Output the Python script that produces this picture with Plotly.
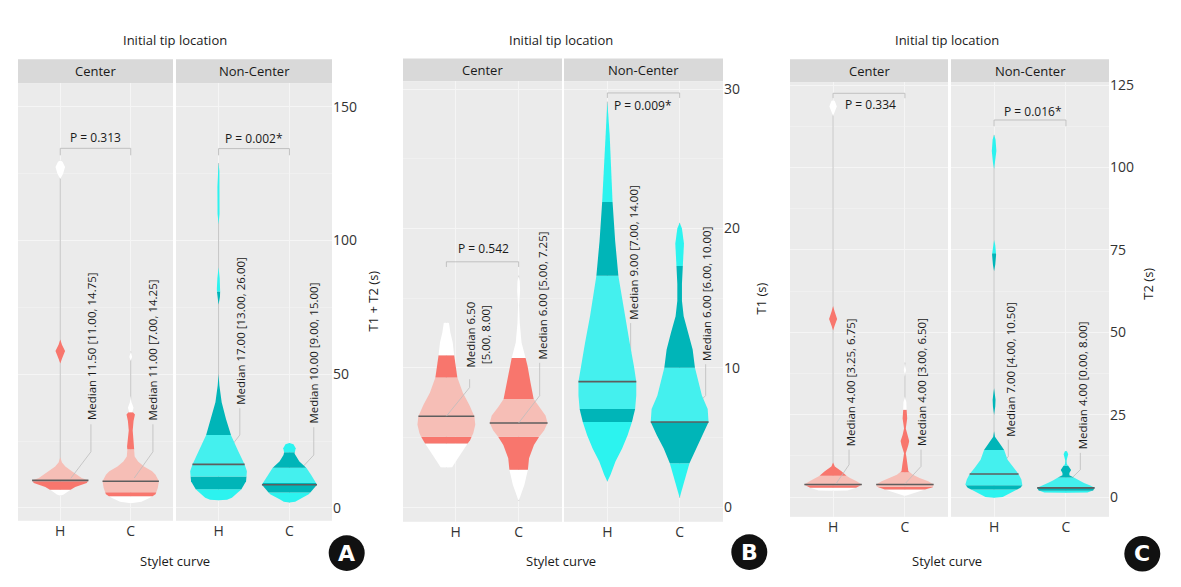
import numpy as np
import plotly.graph_objects as go

W, H = 1181, 587

# ---------------- data ----------------
categories = ["H", "C"]
facets = ["Center", "Non-Center"]
top_title = "Initial tip location"
x_title = "Stylet curve"
y_titles = ["T1 + T2 (s)", "T1 (s)", "T2 (s)"]
badges = ["A", "B", "C"]

yticks_a = [0, 50, 100, 150]
yticks_b = [0, 10, 20, 30]
yticks_c = [0, 25, 50, 75, 100, 125]

# violin profiles: y values and relative half-widths
# Panel A  (T1 + T2)
a_ch_y = [4.6, 5.0, 6.5, 7.8, 9.3, 10.3, 11.2, 12.5, 13.7, 15.5, 17.0, 19.0, 54.0, 55.8, 58.7, 61.0, 63.0, 123.0, 125.0, 127.5, 129.5, 130.0]
a_ch_w = [0, 0.12, 0.32, 0.53, 0.94, 1.0, 0.76, 0.58, 0.41, 0.18, 0.06, 0, 0, 0.06, 0.17, 0.06, 0, 0, 0.1, 0.17, 0.08, 0]
a_ch_b = [6.8, 10.0, 30.0, 100.0]
a_cc_y = [1.8, 2.3, 3.8, 5.1, 7.5, 10.0, 12.4, 13.7, 15.5, 17.4, 19.2, 21.8, 23.0, 26.0, 29.0, 32.5, 35.0, 36.0, 37.5, 39.5, 42.0, 55.0, 56.5, 58.0, 58.5]
a_cc_w = [0, 0.38, 0.68, 0.88, 0.96, 1.0, 0.88, 0.76, 0.47, 0.26, 0.14, 0.12, 0.13, 0.1, 0.07, 0.1, 0.15, 0.06, 0.1, 0.03, 0, 0, 0.05, 0.02, 0]
a_cc_b = [4.4, 5.9, 22.0, 35.8]
a_nh_y = [2.9, 3.1, 3.8, 6.9, 10.0, 13.7, 16.3, 21.1, 27.2, 33.4, 39.5, 45.8, 50.0, 76.0, 79.0, 82.0, 86.0, 90.0, 106.0, 110.0, 120.0, 126.0, 129.0]
a_nh_w = [0, 0.3, 0.47, 0.8, 0.97, 1.0, 0.92, 0.7, 0.44, 0.26, 0.11, 0.03, 0, 0, 0.05, 0.06, 0.04, 0, 0, 0.035, 0.04, 0.03, 0]
a_nh_b = [7.0, 11.8, 27.3, 81.0]
a_nc_y = [2.0, 2.3, 3.2, 5.1, 8.7, 12.4, 14.9, 17.4, 19.8, 20.4, 22.3, 23.8, 24.3]
a_nc_w = [0, 0.2, 0.33, 0.68, 0.97, 0.76, 0.6, 0.35, 0.21, 0.18, 0.22, 0.14, 0]
a_nc_b = [5.8, 9.3, 15.0, 20.8]
medians_a = [10.3, 10.0, 16.3, 8.7]

# Panel B  (T1)
b_ch_y = [2.84, 2.86, 3.5, 4.45, 4.8, 5.3, 5.9, 6.5, 7.3, 8.2, 9.3, 10.9, 11.8, 12.5, 13.2, 13.24]
b_ch_w = [0, 0.2, 0.4, 0.7, 0.82, 0.93, 1.0, 0.97, 0.8, 0.57, 0.38, 0.27, 0.22, 0.14, 0.09, 0]
b_ch_b = [4.56, 5.04, 9.3, 10.9]
b_cc_y = [0.43, 0.9, 1.6, 2.67, 3.5, 4.45, 5.04, 5.5, 6.03, 6.57, 7.16, 7.75, 8.94, 10.1, 10.7, 11.8, 13.2, 14.5, 15.5, 16.2, 16.6]
b_cc_w = [0, 0.09, 0.2, 0.32, 0.36, 0.53, 0.71, 0.88, 1.0, 0.93, 0.71, 0.52, 0.41, 0.31, 0.24, 0.1, 0.04, 0.02, 0.05, 0.04, 0]
b_cc_b = [2.67, 5.04, 7.75, 10.7]
b_nh_y = [1.84, 2.32, 3.26, 4.2, 5.16, 6.1, 7.04, 8.0, 9.0, 10.1, 11.8, 13.7, 16.6, 19.1, 21.9, 24.3, 26.7, 29.1]
b_nh_w = [0, 0.11, 0.28, 0.51, 0.7, 0.85, 0.96, 1.0, 1.0, 0.92, 0.77, 0.6, 0.38, 0.27, 0.18, 0.12, 0.08, 0]
b_nh_b = [6.1, 7.04, 16.6, 21.9]
b_nc_y = [0.66, 1.37, 2.32, 3.14, 4.2, 5.16, 6.1, 7.04, 8.0, 8.94, 10.0, 11.3, 12.5, 13.7, 14.8, 16.0, 17.3, 18.9, 20.0, 20.4]
b_nc_w = [0, 0.1, 0.22, 0.34, 0.55, 0.79, 1.0, 0.97, 0.77, 0.65, 0.53, 0.45, 0.3, 0.14, 0.08, 0.08, 0.11, 0.15, 0.08, 0]
b_nc_b = [3.14, 6.1, 10.0, 17.3]
medians_b = [6.52, 6.03, 9.0, 6.1]

# Panel C  (T2)
c_ch_y = [1.9, 2.0, 2.8, 3.3, 3.8, 4.8, 5.8, 6.6, 7.8, 9.3, 10.5, 50.5, 51.9, 54.0, 56.4, 58.0, 115.5, 117.2, 118.5, 120.2, 120.5]
c_ch_w = [0, 0.5, 0.8, 0.92, 1.0, 0.82, 0.59, 0.45, 0.29, 0.06, 0, 0, 0.05, 0.14, 0.05, 0, 0, 0.07, 0.13, 0.06, 0]
c_ch_b = [2.8, 3.6, 6.5, 100.0]
c_cc_y = [0.3, 1.3, 2.3, 3.0, 3.8, 4.8, 5.8, 6.8, 7.8, 9.8, 12.3, 13.3, 15.8, 17.0, 18.8, 20.8, 23.8, 26.3, 28.8, 30.5, 36.5, 38.5, 40.8]
c_cc_w = [0, 0.32, 0.7, 0.97, 1.0, 0.81, 0.51, 0.28, 0.12, 0.09, 0.05, 0.03, 0.12, 0.15, 0.08, 0.03, 0.08, 0.06, 0.05, 0, 0, 0.04, 0]
c_cc_b = [2.3, 3.1, 7.5, 26.5]
c_nh_y = [-0.2, 0.0, 1.8, 2.8, 3.8, 5.3, 7.0, 8.8, 11.3, 14.3, 16.3, 18.3, 20.0, 25.0, 27.5, 29.5, 31.8, 33.0, 68.5, 70.5, 73.5, 76.5, 78.0, 99.5, 101.5, 105.0, 108.5, 109.9]
c_nh_w = [0, 0.3, 0.68, 0.92, 1.0, 0.95, 0.85, 0.68, 0.47, 0.35, 0.19, 0.03, 0, 0, 0.04, 0.05, 0.02, 0, 0, 0.04, 0.07, 0.04, 0, 0, 0.04, 0.08, 0.05, 0]
c_nh_b = [2.3, 3.6, 14.3, 74.0]
c_nc_y = [1.3, 1.4, 2.0, 2.8, 3.5, 4.3, 5.0, 5.8, 6.6, 7.3, 8.2, 9.3, 10.0, 11.0, 12.0, 13.0, 13.8, 14.0]
c_nc_w = [0, 0.75, 0.95, 1.0, 0.85, 0.63, 0.45, 0.3, 0.12, 0.12, 0.18, 0.1, 0.03, 0.02, 0.05, 0.08, 0.04, 0]
c_nc_b = [1.9, 2.8, 5.9, 9.5]
medians_c = [3.8, 3.8, 7.0, 2.8]

labels_a = ["Median 11.50 [11.00, 14.75]", "Median 11.00 [7.00, 14.25]",
            "Median 17.00 [13.00, 26.00]", "Median 10.00 [9.00, 15.00]"]
labels_b = ["Median 6.50<br>[5.00, 8.00]", "Median 6.00 [5.00, 7.25]",
            "Median 9.00 [7.00, 14.00]", "Median 6.00 [6.00, 10.00]"]
labels_c = ["Median 4.00 [3.25, 6.75]", "Median 4.00 [3.00, 6.50]",
            "Median 7.00 [4.00, 10.50]", "Median 4.00 [0.00, 8.00]"]
pvals_a = ["P = 0.313", "P = 0.002*"]
pvals_b = ["P = 0.542", "P = 0.009*"]
pvals_c = ["P = 0.334", "P = 0.016*"]

# ---------------- layout / styling ----------------
FONT = "Open Sans"
HALF = 0.4
CENTER_COLS = ["#FFFFFF", "#F8766D", "#F6BEB6", "#F8766D", "#FFFFFF"]
NONC_COLS = ["#2CF3EF", "#00B5B8", "#44F0EE", "#00B5B8", "#2CF3EF"]
GRID = "#F5F5F5"
MINOR = "#F0F0F0"
CONN = "#BDBDBD"

PANELS = [
    dict(fx=[(18, 173), (176, 332)], py=(77, 520), strip=(53, 77), yr=[-4.8, 158.9], ticks=yticks_a,
         minor=[25, 75, 125], ytx=373, yty=298, cx=175, badge=(346.7, 552.7), tickpos=[[1, 2], [1, 2]],
         violins=[(a_ch_y, a_ch_w, a_ch_b), (a_cc_y, a_cc_w, a_cc_b), (a_nh_y, a_nh_w, a_nh_b), (a_nc_y, a_nc_w, a_nc_b)],
         medians=medians_a, labels=labels_a, pvals=pvals_a,
         conn=[(1.435, 32.1, 1.435, 31.3, 21.0, 1.15, 11.1), (2.315, 32.1, 2.315, 31.3, 21.0, 2.05, 11.2),
               (1.308, 38.0, 1.30, 37.3, 27.3, 1.0, 17.0), (2.343, 30.9, 2.343, 30.2, 19.8, 2.0, 10.0)],
         brk=[(134.5, 2.6, 1.5, 138.5), (134.4, 2.5, 1.5, 138.3)]),
    dict(fx=[(403, 562), (564, 723)], py=(75, 521), strip=(52, 75), yr=[-1.06, 30.57], ticks=yticks_b,
         minor=[5, 15, 25], ytx=761, yty=295, cx=561, badge=(749.3, 551.7), tickpos=[[1.13, 2], [1, 2]],
         violins=[(b_ch_y, b_ch_w, b_ch_b), (b_cc_y, b_cc_w, b_cc_b), (b_nh_y, b_nh_w, b_nh_b), (b_nc_y, b_nc_w, b_nc_b)],
         medians=medians_b, labels=labels_b, pvals=pvals_b,
         conn=[(1.437, 9.86, 1.322, 9.17, 8.58, 1.0, 6.52), (2.327, 10.47, 2.291, 10.35, 7.99, 2.0, 6.03),
               (1.368, 13.3, 1.322, 13.2, 11.06, 1.0, 9.0), (2.382, 10.35, 2.36, 10.25, 8.0, 2.0, 6.1)],
         brk=[(17.6, 0.37, 1.51, 18.58), (29.72, 0.36, 1.49, 28.83)]),
    dict(fx=[(790, 948), (951, 1109)], py=(76, 516), strip=(53, 76), yr=[-6.0, 125.9], ticks=yticks_c,
         minor=[12.5, 37.5, 62.5, 87.5, 112.5], ytx=1148, yty=280, cx=947.5, badge=(1142.3, 553.3), tickpos=[[1, 2], [1, 2]],
         violins=[(c_ch_y, c_ch_w, c_ch_b), (c_cc_y, c_cc_w, c_cc_b), (c_nh_y, c_nh_w, c_nh_b), (c_nc_y, c_nc_w, c_nc_b)],
         medians=medians_c, labels=labels_c, pvals=pvals_c,
         conn=[(1.236, 14.8, 1.222, 14.4, 9.8, 1.04, 4.0), (2.234, 14.8, 2.224, 14.4, 9.3, 2.0, 4.0),
               (1.226, 17.8, 1.198, 17.4, 12.3, 1.0, 7.0), (2.234, 13.8, 2.201, 13.4, 8.3, 2.0, 4.0)],
         brk=[(122.5, 1.5, 1.52, 119.0), (114.4, 1.9, 1.54, 116.9)]),
]


def band_poly(ys, ws, lo, hi, xc):
    ys = np.asarray(ys, float)
    ws = np.asarray(ws, float)
    lo = max(lo, ys[0])
    hi = min(hi, ys[-1])
    inner = ys[(ys > lo) & (ys < hi)]
    yy = np.concatenate([[lo], inner, [hi]])
    ww = np.interp(yy, ys, ws) * HALF
    return (np.concatenate([xc - ww, (xc + ww)[::-1]]).tolist(),
            np.concatenate([yy, yy[::-1]]).tolist())


fig = go.Figure()
layout = dict(width=W, height=H, margin=dict(l=0, r=0, t=0, b=0), paper_bgcolor="white",
              plot_bgcolor="#EBEBEB", showlegend=False, shapes=[], annotations=[],
              font=dict(family=FONT, color="#222"))

def ann(**kw):
    layout["annotations"].append(kw)

for p, cfg in enumerate(PANELS):
    py0, py1 = cfg["py"]
    for f in range(2):
        idx = p * 2 + f + 1
        sfx = "" if idx == 1 else str(idx)
        xa, ya = "x" + sfx, "y" + sfx
        x0, x1 = cfg["fx"][f]
        layout["xaxis" + sfx] = dict(domain=[x0 / W, x1 / W], range=[0.4, 2.6], anchor=ya,
                                     tickvals=cfg["tickpos"][f], ticktext=categories,
                                     showgrid=True, gridcolor=GRID, gridwidth=1, zeroline=False,
                                     showline=False, ticks="", tickfont=dict(size=14, color="#333"),
                                     fixedrange=True)
        layout["yaxis" + sfx] = dict(domain=[1 - py1 / H, 1 - py0 / H], range=cfg["yr"], anchor=xa,
                                     tickvals=cfg["ticks"], showticklabels=(f == 1), side="right",
                                     showgrid=True, gridcolor=GRID, gridwidth=1, zeroline=False,
                                     showline=False, ticks="", tickfont=dict(size=14, color="#333"),
                                     minor=dict(tickvals=cfg["minor"], showgrid=True, gridcolor=MINOR, gridwidth=0.6),
                                     fixedrange=True)
        s0, s1 = cfg["strip"]
        layout["shapes"].append(dict(type="rect", xref="paper", yref="paper", x0=x0 / W, x1=x1 / W,
                                     y0=1 - s1 / H, y1=1 - s0 / H, fillcolor="#D9D9D9", line=dict(width=0),
                                     layer="below"))
        ann(x=(x0 + x1) / 2 / W, y=1 - (s0 + s1) / 2 / H, xref="paper", yref="paper", text=facets[f],
            showarrow=False, font=dict(size=13, color="#1A1A1A"), xanchor="center", yanchor="middle")

        cols = CENTER_COLS if f == 0 else NONC_COLS
        for c in range(2):
            k = f * 2 + c
            ys, ws, bands = cfg["violins"][k]
            xc = c + 1
            med = cfg["medians"][k]
            lx, ly, cxp, ctop, cbend, ex, ey = cfg["conn"][k]
            conn_trace = go.Scatter(x=[cxp, cxp, ex], y=[ctop, cbend, ey], mode="lines",
                                    line=dict(color=CONN, width=0.8), xaxis=xa, yaxis=ya, hoverinfo="skip")
            if f == 1:
                fig.add_trace(conn_trace)
            fig.add_trace(go.Scatter(x=[xc, xc], y=[ys[0], ys[-1]], mode="lines",
                                     line=dict(color="#C6C6C6", width=1), xaxis=xa, yaxis=ya, hoverinfo="skip"))
            edges = [ys[0]] + list(bands) + [ys[-1]]
            for b in range(5):
                if edges[b + 1] <= edges[b]:
                    continue
                px, pyv = band_poly(ys, ws, edges[b], edges[b + 1], xc)
                fig.add_trace(go.Scatter(x=px, y=pyv, mode="lines", fill="toself", fillcolor=cols[b],
                                         line=dict(width=0, color=cols[b]), xaxis=xa, yaxis=ya,
                                         hoverinfo="skip"))
            mw = float(np.interp(med, ys, ws)) * HALF
            fig.add_trace(go.Scatter(x=[xc - mw, xc + mw], y=[med, med], mode="lines",
                                     line=dict(color="#5E5E5E", width=1.6), xaxis=xa, yaxis=ya,
                                     hoverinfo="skip"))
            if f == 0:
                fig.add_trace(conn_trace)
            ann(x=lx, y=ly, xref=xa, yref=ya, text=cfg["labels"][k], textangle=-90, showarrow=False,
                xanchor="center", yanchor="bottom", align="center", font=dict(size=11.5, color="#1A1A1A"))
        by, drop, tx, ty = cfg["brk"][f]
        fig.add_trace(go.Scatter(x=[1, 1, 2, 2], y=[by - drop, by, by, by - drop], mode="lines",
                                 line=dict(color="#B5B5B5", width=0.8), xaxis=xa, yaxis=ya, hoverinfo="skip"))
        ann(x=tx, y=ty, xref=xa, yref=ya, text=cfg["pvals"][f], showarrow=False,
            xanchor="center", yanchor="middle", font=dict(size=12, color="#1A1A1A"))

    ann(x=cfg["cx"] / W, y=1 - 33 / H, xref="paper", yref="paper", text=top_title, showarrow=False,
        font=dict(size=13, color="#1A1A1A"), xanchor="center", yanchor="middle")
    ann(x=cfg["cx"] / W, y=1 - 561 / H, xref="paper", yref="paper", text=x_title, showarrow=False,
        font=dict(size=13, color="#1A1A1A"), xanchor="center", yanchor="middle")
    ann(x=cfg["ytx"] / W, y=1 - cfg["yty"] / H, xref="paper", yref="paper", text=y_titles[p],
        textangle=-90, showarrow=False, font=dict(size=13, color="#1A1A1A"),
        xanchor="center", yanchor="middle")
    bx, byy = cfg["badge"]
    r = 18
    layout["shapes"].append(dict(type="circle", xref="paper", yref="paper", x0=(bx - r) / W, x1=(bx + r) / W,
                                 y0=1 - (byy + r) / H, y1=1 - (byy - r) / H, fillcolor="#111111",
                                 line=dict(width=0)))
    ann(x=bx / W, y=1 - byy / H, xref="paper", yref="paper", text="<b>" + badges[p] + "</b>",
        showarrow=False, font=dict(size=22, color="white", family="DejaVu Sans"),
        xanchor="center", yanchor="middle")

fig.update_layout(**layout)
fig.write_html("out.html", config={"displayModeBar": False},
               post_script="document.body.style.margin='0';document.body.style.padding='0';")
